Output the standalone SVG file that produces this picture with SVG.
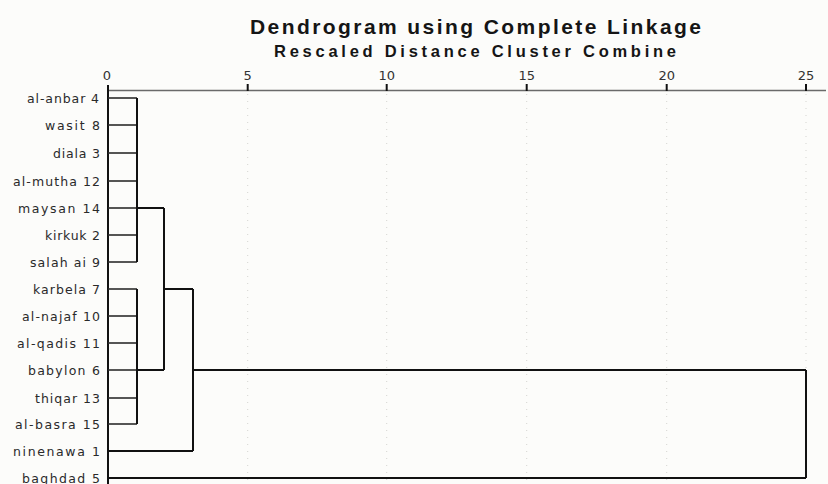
<svg xmlns="http://www.w3.org/2000/svg" width="828" height="484" viewBox="0 0 828 484">
<style>
.title{font-family:"Liberation Sans",Arial,sans-serif;font-weight:bold;fill:#151515}
.lbl{font-family:"DejaVu Sans","Liberation Sans",sans-serif;font-size:12.5px;fill:#2a2a2a;text-anchor:end}
.tick{font-family:"DejaVu Sans","Liberation Sans",sans-serif;font-size:13px;fill:#333;text-anchor:middle}
.leaf{stroke:#2b2b2b;stroke-width:1.6;fill:none}
.ln{stroke:#111;stroke-width:2;fill:none}
.grid{stroke:#d4d4d0;stroke-width:1;stroke-dasharray:1 6;fill:none}
</style>
<rect width="828" height="484" fill="#fcfcfa"/>
<g id="titles">
<text class="title" x="250" y="33.5" font-size="21" textLength="451" lengthAdjust="spacing">Dendrogram using Complete Linkage</text>
<text class="title" x="274" y="56.5" font-size="16.5" textLength="402" lengthAdjust="spacing">Rescaled Distance Cluster Combine</text>
</g>
<g id="axis">
<line class="grid" x1="247.7" y1="94" x2="247.7" y2="482"/>
<line class="grid" x1="386.7" y1="94" x2="386.7" y2="482"/>
<line class="grid" x1="526.7" y1="94" x2="526.7" y2="482"/>
<line class="grid" x1="666.7" y1="94" x2="666.7" y2="482"/>
<line class="grid" x1="806" y1="94" x2="806" y2="368"/>
<line x1="108" y1="90.5" x2="826" y2="90.5" stroke="#6a6a6a" stroke-width="1.3"/>
<g stroke="#111" stroke-width="2">
<line x1="247.7" y1="84" x2="247.7" y2="91"/>
<line x1="386.7" y1="84" x2="386.7" y2="91"/>
<line x1="526.7" y1="84" x2="526.7" y2="91"/>
<line x1="666.7" y1="84" x2="666.7" y2="91"/>
<line x1="806" y1="84" x2="806" y2="91"/>
</g>
<text class="tick" x="107" y="79.5">0</text>
<text class="tick" x="247.7" y="79.5">5</text>
<text class="tick" x="386.7" y="79.5">10</text>
<text class="tick" x="526.7" y="79.5">15</text>
<text class="tick" x="666.7" y="79.5">20</text>
<text class="tick" x="806" y="79.5">25</text>
</g>
<g id="nodes">
<g id="n-al-anbar-4"><text class="lbl" x="99" y="102.5" textLength="72" lengthAdjust="spacing">al-anbar 4</text></g>
<g id="n-wasit-8"><text class="lbl" x="100" y="129.5" textLength="55" lengthAdjust="spacing">wasit 8</text></g>
<g id="n-diala-3"><text class="lbl" x="100" y="157.5" textLength="47" lengthAdjust="spacing">diala 3</text></g>
<g id="n-al-mutha-12"><text class="lbl" x="100" y="185.5" textLength="87" lengthAdjust="spacing">al-mutha 12</text></g>
<g id="n-maysan-14"><text class="lbl" x="100" y="212.5" textLength="82" lengthAdjust="spacing">maysan 14</text></g>
<g id="n-kirkuk-2"><text class="lbl" x="100" y="239.5" textLength="55" lengthAdjust="spacing">kirkuk 2</text></g>
<g id="n-salah-ai-9"><text class="lbl" x="100" y="266.5" textLength="70" lengthAdjust="spacing">salah ai 9</text></g>
<g id="n-karbela-7"><text class="lbl" x="100" y="293.5" textLength="67" lengthAdjust="spacing">karbela 7</text></g>
<g id="n-al-najaf-10"><text class="lbl" x="100" y="320.5" textLength="78" lengthAdjust="spacing">al-najaf 10</text></g>
<g id="n-al-qadis-11"><text class="lbl" x="100" y="347.5" textLength="83" lengthAdjust="spacing">al-qadis 11</text></g>
<g id="n-babylon-6"><text class="lbl" x="100" y="374.5" textLength="72" lengthAdjust="spacing">babylon 6</text></g>
<g id="n-thiqar-13"><text class="lbl" x="100" y="402.5" textLength="65" lengthAdjust="spacing">thiqar 13</text></g>
<g id="n-al-basra-15"><text class="lbl" x="100" y="428.5" textLength="85" lengthAdjust="spacing">al-basra 15</text></g>
<g id="n-ninenawa-1"><text class="lbl" x="100" y="455.5" textLength="87" lengthAdjust="spacing">ninenawa 1</text></g>
<g id="n-baghdad-5"><text class="lbl" x="100" y="482.5" textLength="78" lengthAdjust="spacing">baghdad 5</text></g>
</g>
<g id="connectors">
<line class="ln" x1="108" y1="85" x2="108" y2="484"/>
<g class="leaf">
<line x1="108" y1="98" x2="137" y2="98"/>
<line x1="108" y1="125" x2="137" y2="125"/>
<line x1="108" y1="153" x2="137" y2="153"/>
<line x1="108" y1="181" x2="137" y2="181"/>
<line x1="108" y1="208" x2="137" y2="208"/>
<line x1="108" y1="235" x2="137" y2="235"/>
<line x1="108" y1="262" x2="137" y2="262"/>
<line x1="108" y1="289" x2="137" y2="289"/>
<line x1="108" y1="316" x2="137" y2="316"/>
<line x1="108" y1="343" x2="137" y2="343"/>
<line x1="108" y1="370" x2="137" y2="370"/>
<line x1="108" y1="398" x2="137" y2="398"/>
<line x1="108" y1="424" x2="137" y2="424"/>
</g>
<path class="ln" d="M137 98V262"/>
<path class="ln" d="M137 289V424"/>
<path class="ln" d="M137 208H164"/>
<path class="ln" d="M137 370H164"/>
<path class="ln" d="M164 208V370"/>
<path class="ln" d="M164 289H193"/>
<path class="ln" d="M108 451H193"/>
<path class="ln" d="M193 289V451"/>
<path class="ln" d="M193 370H806"/>
<path class="ln" d="M108 478H806"/>
<path class="ln" d="M806 370V478"/>
</g>
</svg>
